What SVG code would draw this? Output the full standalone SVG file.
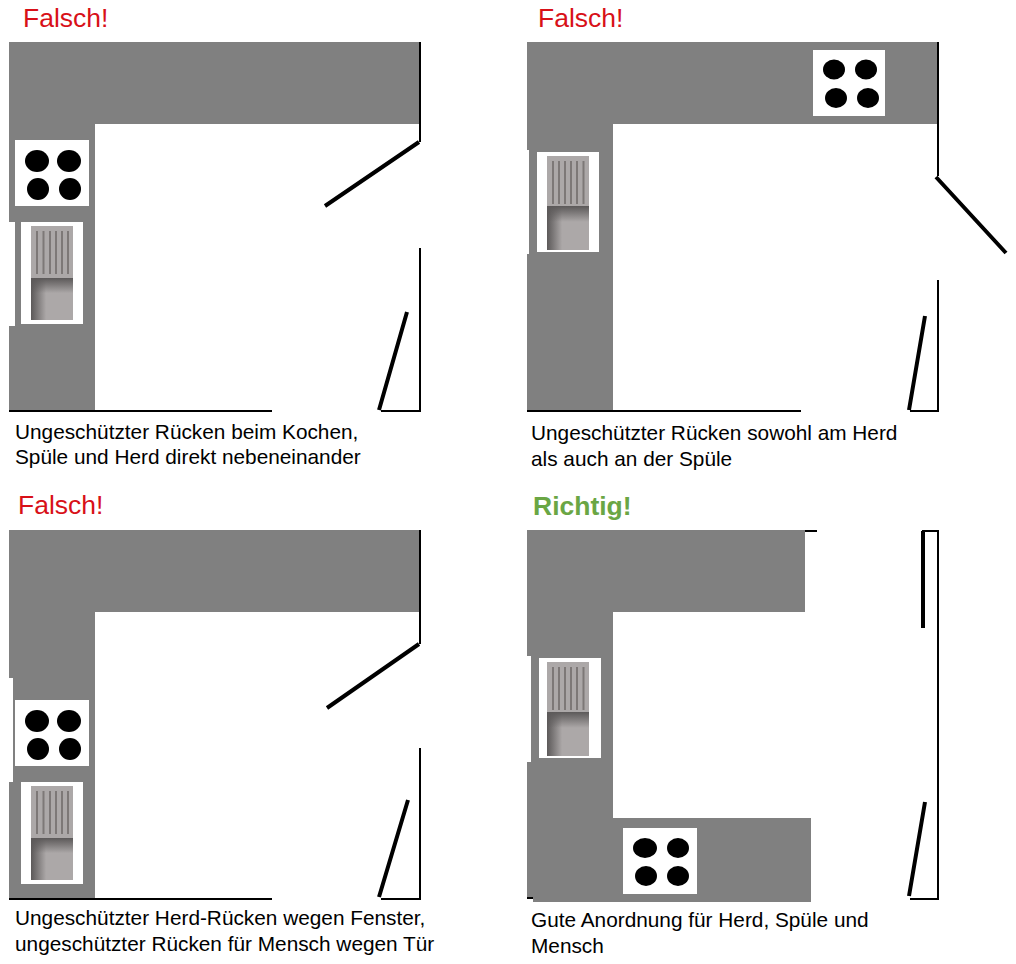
<svg xmlns="http://www.w3.org/2000/svg" width="1016" height="964" viewBox="0 0 1016 964">
<style>
text{font-family:"Liberation Sans",Arial,sans-serif}
.cap{font-size:20.800px;fill:#000}
.bad{font-size:26.500px;fill:#d81018}
.good{font-size:26.500px;fill:#6aa644;font-weight:bold}
.unit{fill:#808080}
.win{fill:#fff}
.wall{stroke:#000;stroke-width:2;fill:none}
.door{stroke:#000;stroke-width:4;fill:none}
.rib{stroke:#7d7877;stroke-width:2;fill:none}
.steel{fill:#aca8a8}
</style>
<defs>
<linearGradient id="shV" x1="0" y1="0" x2="0" y2="1"><stop offset="0" stop-color="#5c5959"/><stop offset="0.15" stop-color="#5c5959" stop-opacity="0.6"/><stop offset="0.36" stop-color="#5c5959" stop-opacity="0"/></linearGradient>
<linearGradient id="shH" x1="0" y1="0" x2="1" y2="0"><stop offset="0" stop-color="#5c5959"/><stop offset="0.15" stop-color="#5c5959" stop-opacity="0.6"/><stop offset="0.36" stop-color="#5c5959" stop-opacity="0"/></linearGradient>
<g id="sink-a">
<rect class="steel" width="42" height="52"/>
<path class="rib" d="M6 5V48M12.500 5V48M19 5V48M25 5V48M31 5V48M37 5V48"/>
<rect class="steel" y="52" width="42" height="42"/>
<rect y="52" width="42" height="42" fill="url(#shH)"/>
<rect y="52" width="42" height="42" fill="url(#shV)"/>
</g>
<g id="sink-b">
<rect class="steel" width="42" height="50"/>
<path class="rib" d="M6 5V48M12 5V48M18 5V48M24 5V48M30 5V48M36.500 5V48"/>
<rect class="steel" y="50" width="42" height="44"/>
<rect y="50" width="42" height="44" fill="url(#shH)"/>
<rect y="50" width="42" height="44" fill="url(#shV)"/>
</g>
<g id="hob-a">
<rect class="win" width="74" height="66"/>
<ellipse cx="22" cy="21" rx="12" ry="11"/>
<ellipse cx="54" cy="21" rx="12" ry="11"/>
<ellipse cx="23" cy="49" rx="11" ry="11"/>
<ellipse cx="55" cy="49" rx="11" ry="11"/>
</g>
</defs>
<rect width="1016" height="964" fill="#fff"/>
<g id="panel-1">
<path class="unit" d="M9 42H420V124H95V411H9Z"/>
<rect class="win" x="9" y="222" width="6" height="104"/>
<use href="#hob-a" x="15" y="140"/>
<rect class="win" x="21" y="222" width="62" height="102"/>
<use href="#sink-a" x="31" y="226"/>
<path class="wall" d="M420 42V142M420 248V411H381M9 411H272"/>
<path class="door" d="M419 142L325 206M407 312L379 410"/>
<text class="bad" x="23" y="27">Falsch!</text>
<text class="cap" x="15" y="439">Ungeschützter Rücken beim Kochen,</text>
<text class="cap" x="15" y="464">Spüle und Herd direkt nebeneinander</text>
</g>
<g id="panel-2">
<path class="unit" d="M527 42H938V124H613V411H527Z"/>
<rect class="win" x="527" y="150" width="2" height="104"/>
<rect class="win" x="813" y="50" width="72" height="66"/>
<ellipse cx="834" cy="69.500" rx="11" ry="10"/>
<ellipse cx="866" cy="69.500" rx="11" ry="10"/>
<ellipse cx="836" cy="98" rx="11" ry="10"/>
<ellipse cx="868" cy="98" rx="11" ry="10"/>
<rect class="win" x="537" y="152" width="62" height="100"/>
<use href="#sink-b" x="547" y="156"/>
<path class="wall" d="M938 42V176M938 280V411H910M527 411H801"/>
<path class="door" d="M936 177L1006 253M925 316L909 410"/>
<text class="bad" x="538" y="27">Falsch!</text>
<text class="cap" x="531" y="440">Ungeschützter Rücken sowohl am Herd</text>
<text class="cap" x="531" y="466">als auch an der Spüle</text>
</g>
<g id="panel-3">
<path class="unit" d="M9 530H420V612H95V899H9Z"/>
<rect class="win" x="9" y="678" width="4" height="104"/>
<use href="#hob-a" x="15" y="700"/>
<rect class="win" x="21" y="782" width="62" height="102"/>
<use href="#sink-a" x="31" y="786"/>
<path class="wall" d="M420 530V644M420 748V899H381M9 899H272"/>
<path class="door" d="M419 644L327 708M408 800L379 897"/>
<text class="bad" x="18" y="514">Falsch!</text>
<text class="cap" x="15" y="925">Ungeschützter Herd-Rücken wegen Fenster,</text>
<text class="cap" x="15" y="951">ungeschützter Rücken für Mensch wegen Tür</text>
</g>
<g id="panel-4">
<path class="unit" d="M527 530H805V612H613V818H811V902H533V898H527Z"/>
<rect class="win" x="527" y="656" width="4" height="106"/>
<rect class="win" x="539" y="658" width="62" height="100"/>
<use href="#sink-b" x="547" y="662"/>
<rect class="win" x="623" y="828" width="74" height="66"/>
<ellipse cx="645" cy="848" rx="12" ry="10"/>
<ellipse cx="678" cy="848" rx="11" ry="10"/>
<ellipse cx="646" cy="876" rx="11" ry="10"/>
<ellipse cx="678" cy="876" rx="11" ry="10"/>
<path class="wall" d="M805 531H817M922 531H938V899H910M527 898H533"/>
<path class="door" d="M923 531V628M925 802L909 896"/>
<text class="good" x="533" y="515">Richtig!</text>
<text class="cap" x="531" y="927">Gute Anordnung für Herd, Spüle und</text>
<text class="cap" x="531" y="953">Mensch</text>
</g>
</svg>
